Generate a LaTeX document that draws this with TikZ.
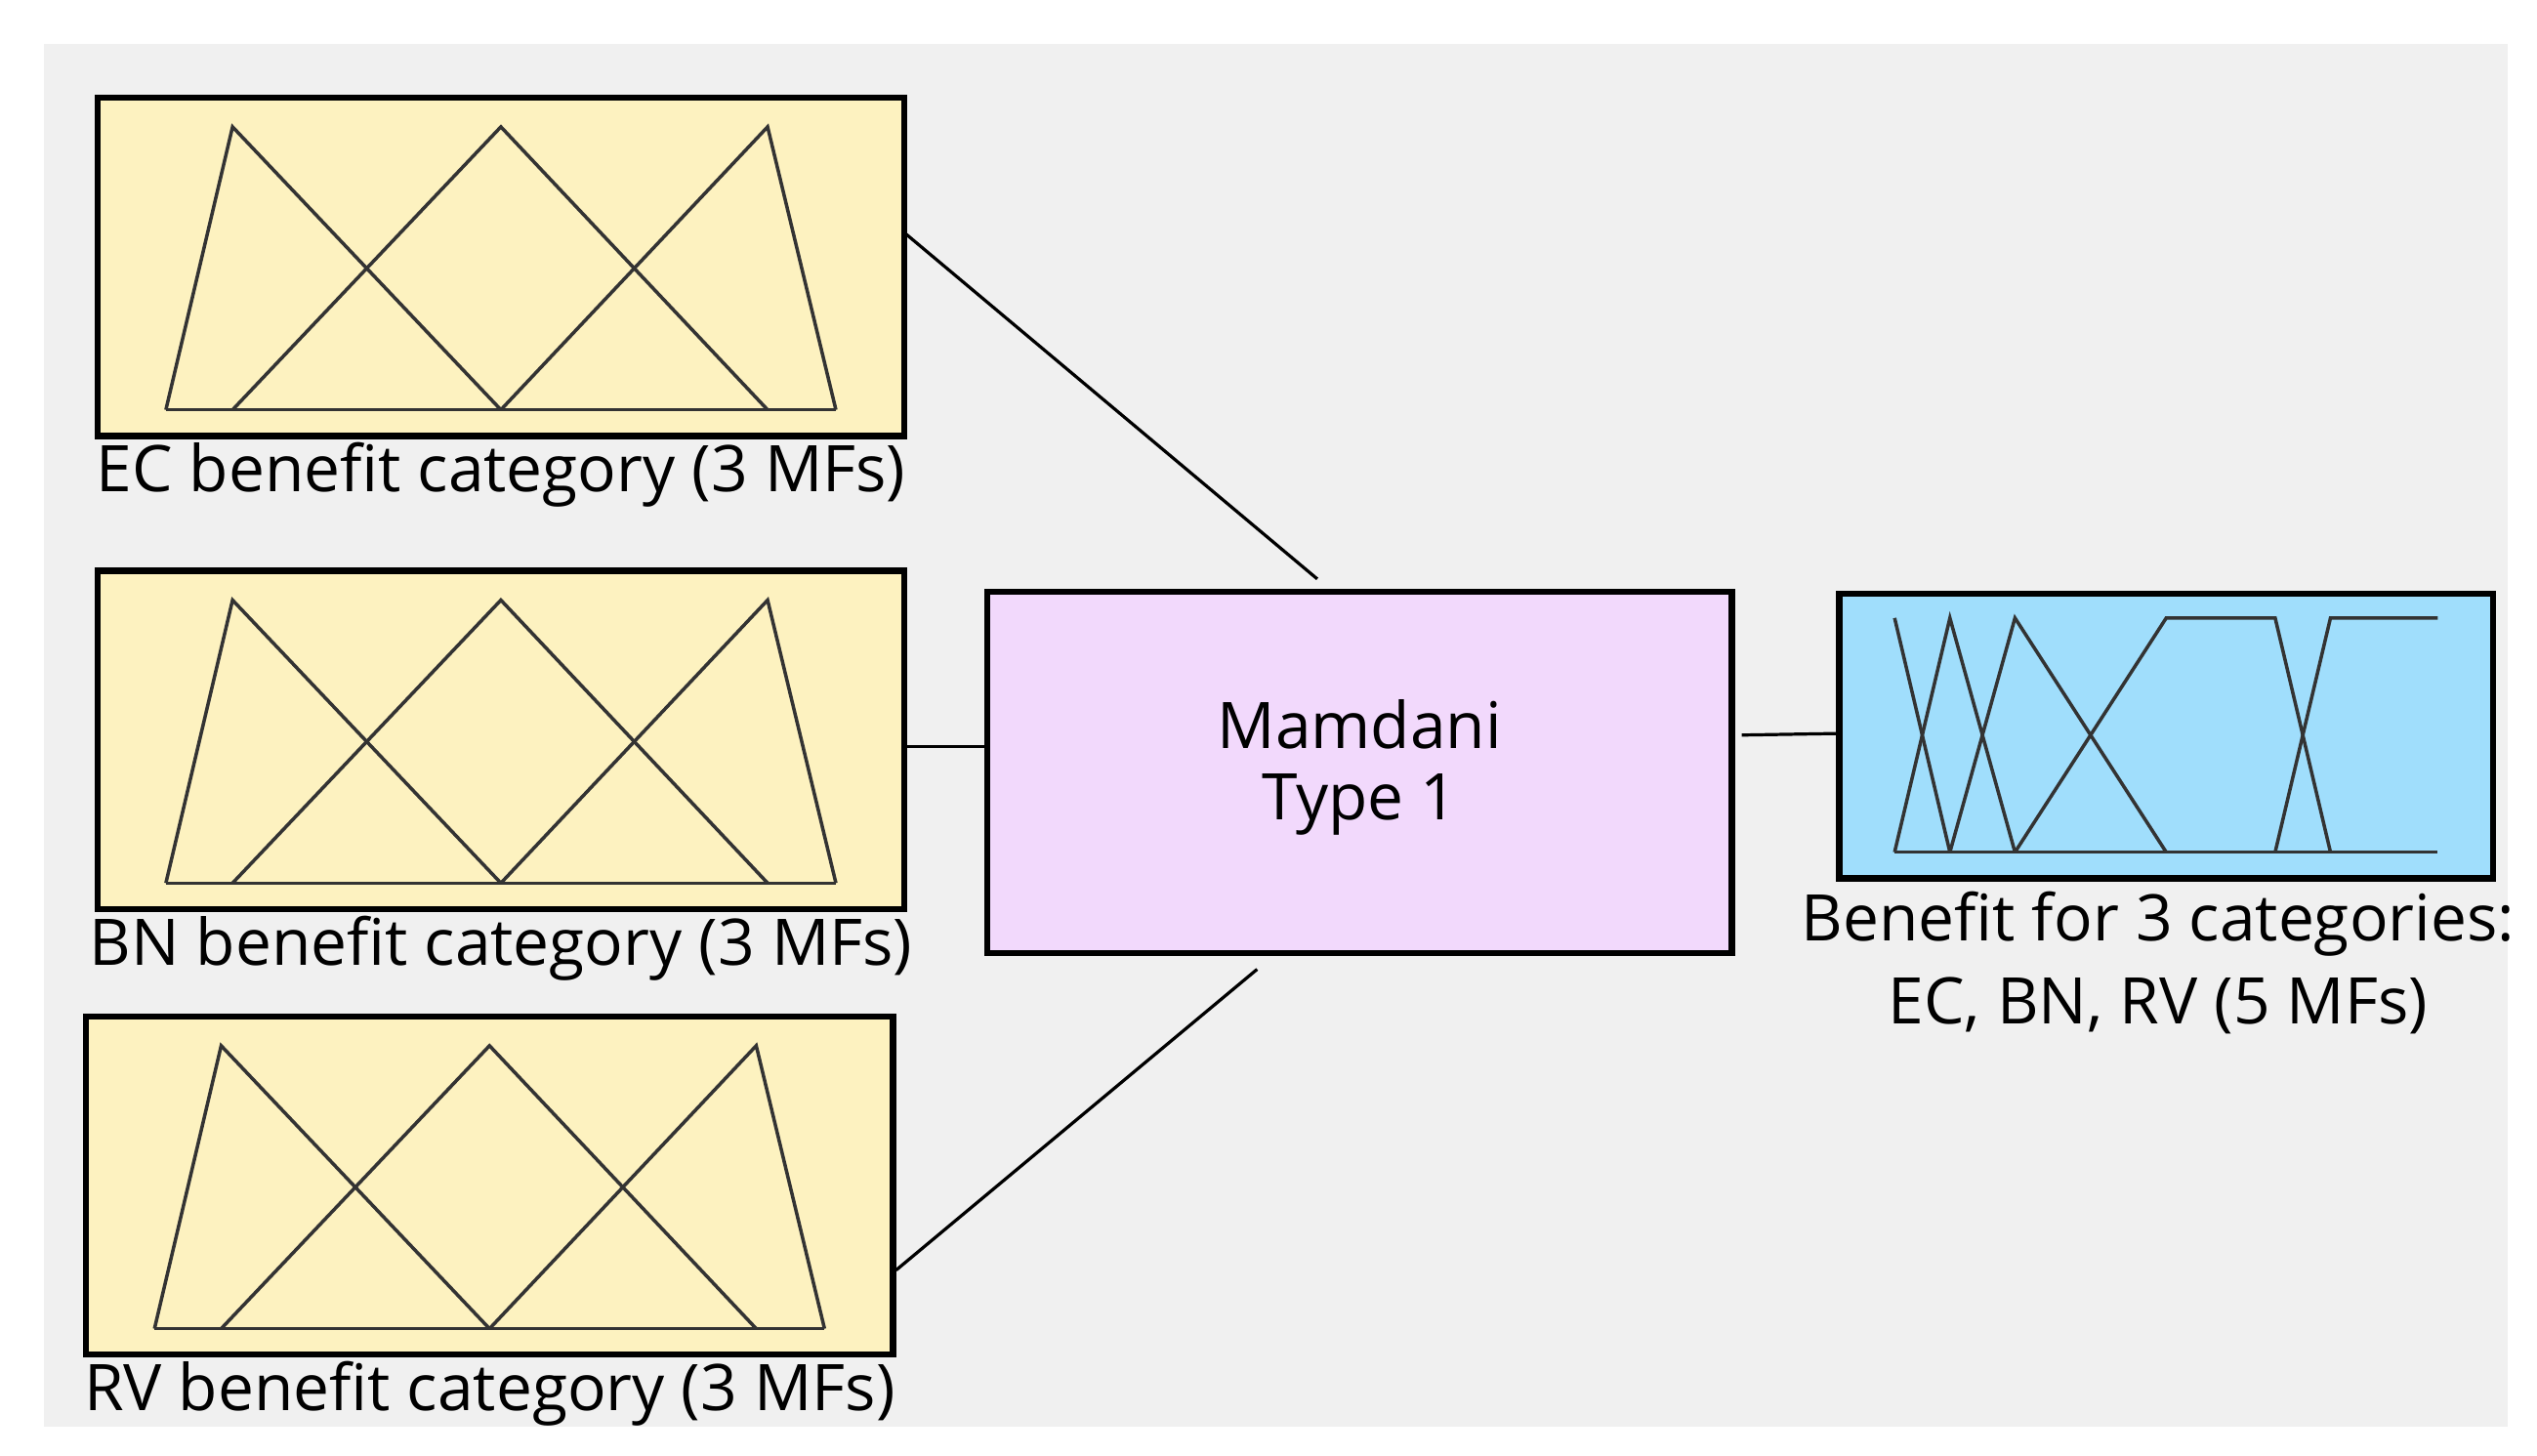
\documentclass[tikz,border=0pt]{standalone}
\usepackage{fontspec}
\setmainfont{Open Sans}
\begin{document}
\begin{tikzpicture}[x=0.02cm,y=-0.02cm,
 box/.style={draw=black,line width=2.2pt},
 mf/.style={draw=black!80,line width=1.2pt,line join=miter},
 lbl/.style={font=\fontsize{22.5}{27}\selectfont,inner sep=0pt},
 con/.style={draw=black,line width=1.1pt}]
\useasboundingbox (0,0) rectangle (1560,895);
\fill[white] (0,0) rectangle (1560,895);
\fill[black!6] (27,27) rectangle (1542,877);
\foreach \n/\dx/\y/\t in {ec/0/60/EC, bn/0/351/BN, rv/-7/625/RV}{
 \begin{scope}[xshift=\dx*0.02cm,yshift=-\y*0.02cm]
 \draw[box,fill={rgb,255:red,253;green,242;blue,192}] (60,0) coordinate (\n nw) rectangle (556,208) coordinate (\n se);
 \draw[mf] (102,192)--(143,18)--(308,192);
 \draw[mf] (143,192)--(308,18)--(472,192);
 \draw[mf] (308,192)--(472,18)--(514,192);
 \draw[mf] (102,192)--(514,192);
 \node[lbl] (\n lbl) at (308,232) {\t\ benefit category (3 MFs)};
 \end{scope}}
\draw[box,fill={rgb,255:red,242;green,217;blue,252}] (607,364) rectangle (1065,586);
\node[lbl,align=center] (mam) at (836,472) {Mamdani\\[-2pt]Type 1};
\draw[box,fill={rgb,255:red,160;green,222;blue,252}] (1131,365) rectangle (1533,540);
\draw[mf] (1165,380)--(1199,524);
\draw[mf] (1165,524)--(1199,380)--(1239,524);
\draw[mf] (1199,524)--(1239,380)--(1332,524);
\draw[mf] (1239,524)--(1332,380)--(1399,380)--(1433,524);
\draw[mf] (1399,524)--(1433,380)--(1499,380);
\draw[mf] (1165,524)--(1499,524);
\node[lbl,align=center] (out) at (1327,592) {Benefit for 3 categories:\\[2pt]EC, BN, RV (5 MFs)};
\coordinate (a1) at (556,143); \coordinate (a2) at (810,356);
\coordinate (b1) at (556,459); \coordinate (b2) at (607,459);
\coordinate (c1) at (551,781); \coordinate (c2) at (773,596);
\coordinate (d1) at (1071,452); \coordinate (d2) at (1131,451);
\draw[con] (a1)--(a2); \draw[con] (b1)--(b2); \draw[con] (c1)--(c2); \draw[con] (d1)--(d2);
\end{tikzpicture}
\end{document}
